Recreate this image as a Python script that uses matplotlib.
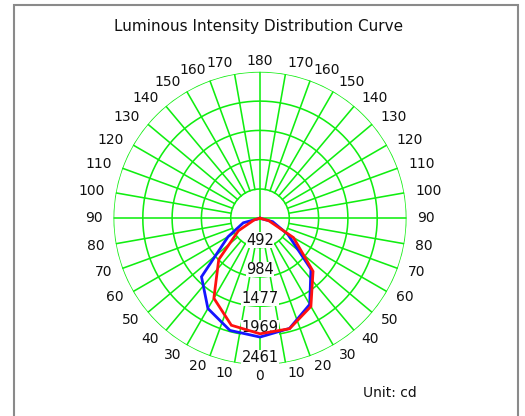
import numpy as np
import matplotlib
matplotlib.use("Agg")
import matplotlib.pyplot as plt
from matplotlib.patches import Rectangle

# ---- data ----
gamma = [0, 15, 30, 45, 60, 75, 90]                 # degrees from nadir
blue_right = [1995, 1915, 1670, 1210, 540, 220, 0]   # C0
blue_left = [1995, 1950, 1750, 1390, 620, 290, 0]    # C180
red_right = [1940, 1920, 1710, 1260, 650, 150, 0]    # C90
red_left = [1940, 1860, 1550, 980, 420, 100, 0]      # C270
ring_labels = ["492", "984", "1477", "1969", "2461"]
ring_values = [492.2, 984.4, 1476.6, 1968.8, 2461.0]
angle_ticks = list(range(0, 181, 10))
title = "Luminous Intensity Distribution Curve"
unit_text = "Unit: cd"

W, H = 525, 416
fig = plt.figure(figsize=(W / 100, H / 100), dpi=100)
fig.patch.set_facecolor("white")

# border box
fig.patches.append(Rectangle((14 / W, -0.05), 504 / W, (H - 5) / H + 0.05,
                             transform=fig.transFigure, fill=False,
                             ec="#8a8a8a", lw=1.5))

cx, cy, R = 260, H - 218.3, 146.5
ax = fig.add_axes([(cx - R) / W, (cy - R) / H, 2 * R / W, 2 * R / H],
                  projection="polar")
ax.set_theta_zero_location("S")
ax.set_theta_direction(1)
rmax = ring_values[-1]
ax.set_ylim(0, rmax)
ax.grid(False)
ax.set_xticks([])
ax.set_yticks([])
ax.spines["polar"].set_visible(False)
ax.set_facecolor("none")

green = "#10ee10"
glw = 1.15
th = np.linspace(0, 2 * np.pi, 361)
for rv in ring_values:
    ax.plot(th, np.full_like(th, rv), color=green, lw=glw, zorder=1)
r1 = ring_values[0]
for a in range(0, 360, 10):
    t = np.deg2rad(a)
    start = 0 if a % 90 == 0 else r1
    ax.plot([t, t], [start, rmax], color=green, lw=glw, zorder=1)

# ring labels
for rv, lab in zip(ring_values, ring_labels):
    ax.text(0, rv, lab, ha="center", va="bottom", fontsize=10.5, color="#111111",
            zorder=2, bbox=dict(facecolor="white", edgecolor="none", pad=0.2))

# angle labels
rl = rmax * 1.075
for a in angle_ticks:
    for sgn in ([1] if a in (0, 180) else [1, -1]):
        t = np.deg2rad(sgn * a)
        ha = "center" if a in (0, 180) else ("left" if sgn > 0 else "right")
        ax.text(t, rl, str(a), ha=ha, va="center", fontsize=10,
                color="#111111", clip_on=False)

# curves
g = np.deg2rad(np.array(gamma))
def half(left, right):
    th_ = np.concatenate([-g[::-1], g[1:]])
    r_ = np.concatenate([np.array(left)[::-1], np.array(right)[1:]])
    return th_, r_

t_b, r_b = half(blue_left, blue_right)
t_r, r_r = half(red_left, red_right)
ax.plot(t_b, r_b, color="#1515ff", lw=2.0, zorder=3, solid_joinstyle="miter")
ax.plot(t_r, r_r, color="#ff1010", lw=2.0, zorder=4, solid_joinstyle="miter")

fig.text(259 / W, 1 - 26 / H, title, ha="center", va="center", fontsize=11,
         color="#111111")
fig.text(363 / W, 1 - 393 / H, unit_text, ha="left", va="center",
         fontsize=10, color="#111111")

fig.savefig("out.png", dpi=100, facecolor="white")
